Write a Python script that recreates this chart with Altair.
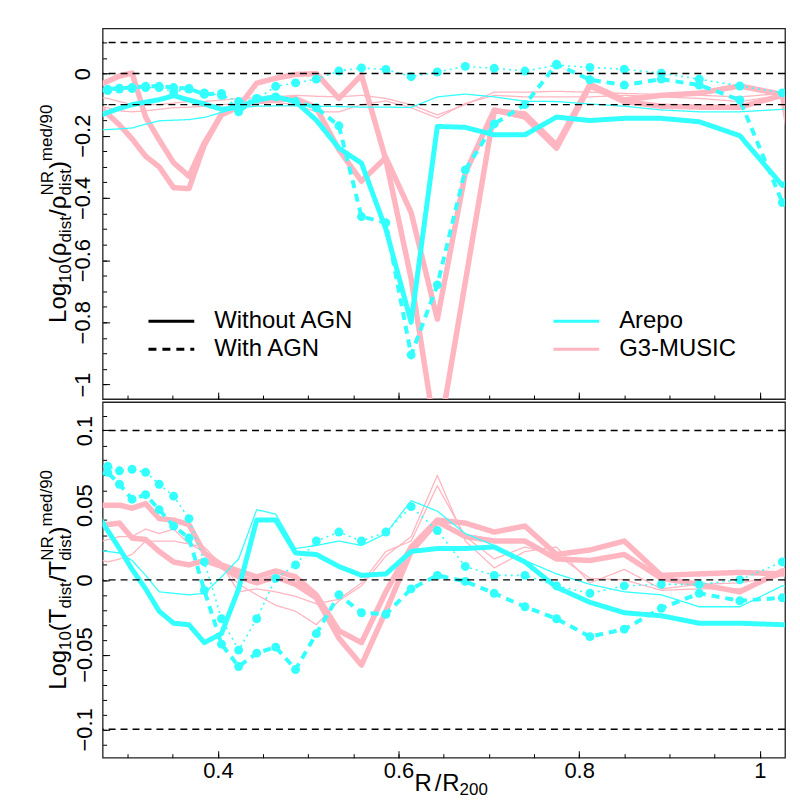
import altair as alt
import pandas as pd

FONT = "Liberation Sans"
CYAN = "#33FFFF"
PINK = "#FFB6C1"

# radial bins (R/R200)
R = [0.265, 0.278, 0.291, 0.305, 0.320, 0.335, 0.351, 0.368, 0.385, 0.404,
     0.423, 0.443, 0.464, 0.486, 0.509, 0.534, 0.559, 0.586, 0.614, 0.643,
     0.674, 0.706, 0.740, 0.775, 0.812, 0.850, 0.891, 0.933, 0.978, 1.025, 1.074]

# ---- density panel ----
rho_arepo_med = [-0.14, -0.125, -0.112, -0.10, -0.092, -0.084, -0.071, -0.085, -0.098, -0.115,
                 -0.109, -0.085, -0.075, -0.09, -0.15, -0.24, -0.288, -0.50, -0.80, -0.17,
                 -0.173, -0.197, -0.197, -0.14, -0.151, -0.144, -0.144, -0.155, -0.20, -0.36, -0.25]
rho_arepo_90 = [-0.18, -0.18, -0.178, -0.175, -0.163, -0.152, -0.15, -0.148, -0.141, -0.125,
                -0.109, -0.105, -0.104, -0.104, -0.105, -0.106, -0.108, -0.108, -0.109, -0.075,
                -0.066, -0.075, -0.089, -0.09, -0.098, -0.105, -0.117, -0.123, -0.123, -0.115, -0.11]
rho_arepo_agn_med = [-0.055, -0.05, -0.047, -0.045, -0.041, -0.041, -0.045, -0.048, -0.067, -0.064,
                     -0.123, -0.08, -0.075, -0.09, -0.11, -0.168, -0.46, -0.48, -0.905, -0.68,
                     -0.31, -0.162, -0.10, 0.03, -0.02, -0.037, -0.018, -0.037, -0.085, -0.415, -0.3]
rho_arepo_agn_90 = [-0.06, -0.055, -0.05, -0.048, -0.045, -0.045, -0.059, -0.05, -0.062, -0.07,
                    -0.09, -0.082, -0.041, -0.03, -0.018, 0.008, 0.018, 0.013, -0.01, 0.005,
                    0.023, 0.017, 0.008, 0.027, 0.02, 0.014, 0.001, -0.018, -0.04, -0.062, -0.08]
rho_music_1 = [-0.04, -0.025, -0.008, 0.002, -0.14, -0.213, -0.287, -0.33, -0.223, -0.133,
               -0.107, -0.031, -0.015, -0.003, 0.0, -0.08, -0.005, -0.277, -0.66, -1.2,
               -0.67, -0.12, -0.13, -0.23, -0.035, -0.085, -0.07, -0.063, -0.04, -0.067, -0.9]
rho_music_2 = [-0.10, -0.13, -0.165, -0.21, -0.266, -0.30, -0.367, -0.37, -0.23, -0.13,
               -0.107, -0.09, -0.085, -0.08, -0.11, -0.245, -0.346, -0.27, -0.447, -0.79,
               -0.32, -0.117, -0.14, -0.24, -0.04, -0.09, -0.105, -0.108, -0.108, -0.07, -0.5]
rho_music_3 = [-0.075, -0.08, -0.09, -0.10, -0.10, -0.10, -0.095, -0.09, -0.09, -0.085,
               -0.08, -0.078, -0.075, -0.07, -0.073, -0.075, -0.07, -0.08, -0.10, -0.133,
               -0.10, -0.06, -0.06, -0.057, -0.06, -0.064, -0.067, -0.07, -0.075, -0.064, -0.07]
rho_music_4 = [-0.105, -0.11, -0.12, -0.123, -0.12, -0.115, -0.11, -0.108, -0.105, -0.10,
               -0.097, -0.095, -0.093, -0.10, -0.123, -0.123, -0.10, -0.088, -0.11, -0.143,
               -0.096, -0.07, -0.075, -0.075, -0.075, -0.07, -0.075, -0.08, -0.09, -0.07, -0.08]

# ---- temperature panel ----
T_arepo_med = [0.045, 0.033, 0.021, 0.007, -0.006, -0.021, -0.029, -0.030, -0.042, -0.036,
               -0.006, 0.04, 0.04, 0.018, 0.017, 0.009, 0.003, 0.004, 0.019, 0.021,
               0.021, 0.022, 0.012, -0.005, -0.015, -0.022, -0.024, -0.029, -0.029, -0.03, -0.031]
T_arepo_90 = [0.02, 0.019, 0.018, 0.013, 0.003, -0.008, -0.009, -0.010, -0.009, 0.002,
              0.014, 0.047, 0.044, 0.021, 0.023, 0.026, 0.023, 0.031, 0.053, 0.046,
              0.031, 0.023, 0.013, 0.004, -0.003, -0.008, -0.01, -0.018, -0.018, -0.004, -0.008]
T_arepo_agn_med = [0.07, 0.072, 0.064, 0.054, 0.057, 0.047, 0.036, 0.028, -0.007, -0.043,
                   -0.058, -0.049, -0.045, -0.06, -0.036, -0.01, -0.022, -0.023, -0.006, 0.003,
                   -0.001, -0.009, -0.018, -0.026, -0.038, -0.033, -0.019, -0.009, -0.014, -0.012, -0.012]
T_arepo_agn_90 = [0.07, 0.076, 0.073, 0.074, 0.072, 0.064, 0.056, 0.041, 0.012, -0.026,
                  -0.047, -0.026, 0.001, 0.01, 0.026, 0.032, 0.026, 0.032, 0.049, 0.033,
                  0.009, 0.003, 0.003, -0.004, -0.009, -0.004, -0.003, -0.003, 0.0, 0.012, 0.02]
T_music_1 = [0.05, 0.05, 0.05, 0.048, 0.051, 0.041, 0.04, 0.037, 0.018, 0.01,
             0.006, 0.002, 0.006, 0.002, -0.01, -0.034, -0.042, -0.008, 0.022, 0.04,
             0.038, 0.032, 0.036, 0.017, 0.02, 0.026, 0.003, 0.004, 0.005, 0.004, 0.004]
T_music_2 = [0.037, 0.037, 0.038, 0.028, 0.027, 0.019, 0.012, 0.01, 0.013, 0.009,
             0.002, -0.002, 0.002, -0.003, -0.012, -0.039, -0.057, -0.021, 0.019, 0.039,
             0.029, 0.026, 0.026, 0.014, 0.013, 0.017, 0.001, -0.003, -0.008, 0.006, 0.01]
T_music_3 = [0.025, 0.027, 0.029, 0.029, 0.034, 0.031, 0.034, 0.024, 0.019, 0.01,
             -0.003, -0.01, -0.017, -0.021, -0.03, -0.014, -0.004, 0.016, 0.029, 0.07,
             0.026, 0.008, 0.019, 0.022, -0.002, 0.007, -0.006, -0.003, -0.002, 0.003, 0.004]
T_music_4 = [0.014, 0.012, 0.014, 0.017, 0.026, 0.026, 0.026, 0.024, 0.022, 0.01,
             -0.008, -0.006, -0.008, -0.011, -0.016, -0.013, -0.002, 0.019, 0.026, 0.063,
             0.029, 0.014, 0.022, 0.017, 0.001, 0.0, -0.007, -0.006, -0.006, 0.003, 0.004]

# tick values / labels
X_MAJOR = [0.4, 0.6, 0.8, 1.0]
X_MINOR = [0.3, 0.35, 0.4, 0.45, 0.5, 0.55, 0.6, 0.65, 0.7, 0.75, 0.8, 0.85, 0.9, 0.95, 1.0]
RHO_MAJOR = [0, -0.2, -0.4, -0.6, -0.8, -1]
RHO_MINOR = [0.1, 0.05, 0, -0.05, -0.1, -0.15, -0.2, -0.25, -0.3, -0.35, -0.4, -0.45,
             -0.5, -0.55, -0.6, -0.65, -0.7, -0.75, -0.8, -0.85, -0.9, -0.95, -1.0]
T_MAJOR = [0.1, 0.05, 0, -0.05, -0.1]
T_MINOR = [0.11, 0.1, 0.09, 0.08, 0.07, 0.06, 0.05, 0.04, 0.03, 0.02, 0.01, 0,
           -0.01, -0.02, -0.03, -0.04, -0.05, -0.06, -0.07, -0.08, -0.09, -0.1, -0.11]
REF = [0.1, 0, -0.1]

W_PLOT = 685
H_TOP = 372
H_BOT = 357
X_DOMAIN = [0.2724, 1.028]

NOAGN, AGN, AGN90 = "Without AGN", "With AGN", "With AGN (90)"
SERIES = [
    ("rho", "m1", "G3-MUSIC", NOAGN, 5.5, rho_music_1),
    ("rho", "m2", "G3-MUSIC", NOAGN, 5.5, rho_music_2),
    ("rho", "m3", "G3-MUSIC", NOAGN, 1.3, rho_music_3),
    ("rho", "m4", "G3-MUSIC", NOAGN, 1.3, rho_music_4),
    ("rho", "a1", "Arepo", NOAGN, 5.0, rho_arepo_med),
    ("rho", "a2", "Arepo", NOAGN, 1.3, rho_arepo_90),
    ("rho", "a3", "Arepo", AGN, 4.0, rho_arepo_agn_med),
    ("rho", "a4", "Arepo", AGN90, 1.6, rho_arepo_agn_90),
    ("T", "m1", "G3-MUSIC", NOAGN, 5.5, T_music_1),
    ("T", "m2", "G3-MUSIC", NOAGN, 5.5, T_music_2),
    ("T", "m3", "G3-MUSIC", NOAGN, 1.3, T_music_3),
    ("T", "m4", "G3-MUSIC", NOAGN, 1.3, T_music_4),
    ("T", "a1", "Arepo", NOAGN, 5.0, T_arepo_med),
    ("T", "a2", "Arepo", NOAGN, 1.3, T_arepo_90),
    ("T", "a3", "Arepo", AGN, 4.0, T_arepo_agn_med),
    ("T", "a4", "Arepo", AGN90, 1.6, T_arepo_agn_90),
]

rows = []
for panel, sid, sim, agn, w, vals in SERIES:
    for r, v in zip(R, vals):
        rows.append(dict(panel=panel, sid=sid, sim=sim, agn=agn, w=w, r=r, v=v))
df = pd.DataFrame(rows)

ONE = pd.DataFrame({"k": [0]})

COLOR_SCALE = alt.Scale(domain=["Arepo", "G3-MUSIC"], range=[CYAN, PINK])
DASH_SCALE = alt.Scale(domain=[NOAGN, AGN, AGN90], range=[[1, 0], [8, 6], [2, 4]])

# title pieces: (text, font size, advance, baseline shift)
TITLE_RHO = [("Log", 24, 40.0, 0), ("10", 17, 18.9, 5), ("(", 24, 8.0, 0), ("ρ", 24, 13.9, 0),
             ("dist", 17, 26.5, 5), ("/", 24, 6.7, 0), ("ρ", 24, 13.9, 0), ("NR", 17, 0, -13),
             ("dist", 17, 26.5, 5), (")", 24, 8.0, 0), ("med/90", 17, 56.7, -14)]
TITLE_T = [("Log", 24, 40.0, 0), ("10", 17, 18.9, 5), ("(", 24, 8.0, 0), ("T", 24, 14.7, 0),
           ("dist", 17, 26.5, 5), ("/", 24, 6.7, 0), ("T", 24, 14.7, 0), ("NR", 17, 0, -13),
           ("dist", 17, 26.5, 5), (")", 24, 8.0, 0), ("med/90", 17, 56.7, -14)]
TITLE_X = [("R", 24, 20.3, 0), ("/", 24, 7.7, 0), ("R", 24, 17.3, 0), ("200", 17, 0, 4)]


def rot_title(pieces, H):
    L = sum(p[2] for p in pieces)
    y = H / 2 + L / 2
    out = []
    for text, fs, adv, shift in pieces:
        out.append(alt.Chart(ONE).mark_text(text=text, fontSize=fs, angle=270, align="left",
                                            baseline="alphabetic", font=FONT, color="black")
                   .encode(x=alt.value(-37 + shift), y=alt.value(y)))
        y -= adv
    return out


def x_title(pieces, x0, y0):
    x = x0
    out = []
    for text, fs, adv, shift in pieces:
        out.append(alt.Chart(ONE).mark_text(text=text, fontSize=fs, align="left",
                                            baseline="alphabetic", font=FONT, color="black")
                   .encode(x=alt.value(x), y=alt.value(y0 + shift)))
        x += adv
    return out


def tick_axis_x(values, size, H):
    return alt.Axis(orient="top", offset=-H, values=values, labels=False, ticks=True,
                    tickSize=size, tickColor="black", tickWidth=1, domain=False, grid=False, title=None)


def tick_axis_y(values, size):
    return alt.Axis(orient="right", offset=-W_PLOT, values=values, labels=False, ticks=True,
                    tickSize=size, tickColor="black", tickWidth=1, domain=False, grid=False, title=None)


def panel(pname, H, ydom, ymaj, ymin, ypad, show_x, title, legends):
    d = df[df.panel == pname]
    pink = d[d.sim == "G3-MUSIC"]
    cyan = d[d.sim == "Arepo"]
    pts = cyan[cyan.agn != NOAGN]
    xs = alt.Scale(domain=X_DOMAIN, nice=False, zero=False)
    ys = alt.Scale(domain=ydom, nice=False, zero=False)

    if show_x:
        ax_x = alt.Axis(orient="bottom", values=X_MAJOR, format="~g", ticks=False, tickSize=0,
                        domain=False, grid=False, labelFontSize=22, labelFont=FONT, labelColor="black",
                        labelPadding=3, labelFlush=False, labelOverlap=False, title=None)
    else:
        ax_x = None
    ax_y = alt.Axis(orient="left", values=ymaj, format="~g", ticks=False, tickSize=0, domain=False,
                    grid=False, labelAngle=270, labelAlign="center", labelBaseline="alphabetic",
                    labelPadding=ypad, labelFontSize=22, labelFont=FONT, labelColor="black",
                    labelFlush=False, labelOverlap=False, title=None)

    if legends:
        leg_dash = alt.Legend(title=None, orient="none", legendX=44.5, legendY=282,
                              values=[NOAGN, AGN], symbolType="stroke", symbolSize=2116,
                              symbolStrokeWidth=3, symbolStrokeColor="black", clipHeight=24,
                              rowPadding=4, labelOffset=18.5, labelFontSize=24, labelFont=FONT,
                              labelColor="black", padding=0, labelLimit=400)
        leg_col = alt.Legend(title=None, orient="none", legendX=451, legendY=282,
                             symbolType="stroke", symbolSize=2116, symbolStrokeWidth=3,
                             clipHeight=24, rowPadding=4, labelOffset=18.5, labelFontSize=24,
                             labelFont=FONT, labelColor="black", padding=0, labelLimit=400)
    else:
        leg_dash = None
        leg_col = None

    pink_l = alt.Chart(pink).mark_line(clip=True, strokeJoin="round").encode(
        x=alt.X("r:Q", scale=xs, axis=ax_x),
        y=alt.Y("v:Q", scale=ys, axis=ax_y),
        color=alt.Color("sim:N", scale=COLOR_SCALE, legend=leg_col),
        strokeDash=alt.StrokeDash("agn:N", scale=DASH_SCALE, legend=leg_dash),
        strokeWidth=alt.StrokeWidth("w:Q", scale=None),
        detail="sid:N",
    )
    cyan_l = alt.Chart(cyan).mark_line(clip=True, strokeJoin="round").encode(
        x=alt.X("r:Q", scale=xs, axis=tick_axis_x(X_MAJOR, 7, H)),
        y=alt.Y("v:Q", scale=ys, axis=tick_axis_y(ymaj, 7)),
        color=alt.Color("sim:N", scale=COLOR_SCALE, legend=leg_col),
        strokeDash=alt.StrokeDash("agn:N", scale=DASH_SCALE, legend=leg_dash),
        strokeWidth=alt.StrokeWidth("w:Q", scale=None),
        detail="sid:N",
    )
    pts_l = alt.Chart(pts).mark_circle(clip=True, size=80, opacity=1, color=CYAN).encode(
        x=alt.X("r:Q", scale=xs, axis=tick_axis_x(X_MINOR, 4, H)),
        y=alt.Y("v:Q", scale=ys, axis=tick_axis_y(ymin, 4)),
    )
    ref_l = alt.Chart(pd.DataFrame({"v": REF})).mark_rule(
        color="black", strokeWidth=1.4, strokeDash=[7, 5]).encode(
        y=alt.Y("v:Q", scale=ys, axis=None))
    anchor = alt.Chart(ONE).mark_rule(color="white", strokeWidth=1).encode(
        x=alt.value(-88), y=alt.value(1), y2=alt.value(3))

    layers = [pink_l, cyan_l, pts_l, ref_l, anchor] + rot_title(title, H)
    if show_x:
        layers += x_title(TITLE_X, 313, H + 33)
    return alt.layer(*layers).properties(width=W_PLOT, height=H).resolve_axis(
        x="independent", y="independent")


top = panel("rho", H_TOP, [-1.047, 0.145], RHO_MAJOR, RHO_MINOR, 13, False, TITLE_RHO, True)
bottom = panel("T", H_BOT, [-0.119, 0.119], T_MAJOR, T_MINOR, 11, True, TITLE_T, False)

chart = alt.vconcat(top, bottom, spacing=0).resolve_scale(
    color="independent", strokeDash="independent").resolve_legend(
    color="independent", strokeDash="independent").properties(
    padding={"left": 5, "top": 18, "right": 5, "bottom": 25}).configure(
    font=FONT).configure_view(stroke="#222", strokeWidth=1.3)

chart.save("out.html", embed_options={"renderer": "svg", "actions": False})
